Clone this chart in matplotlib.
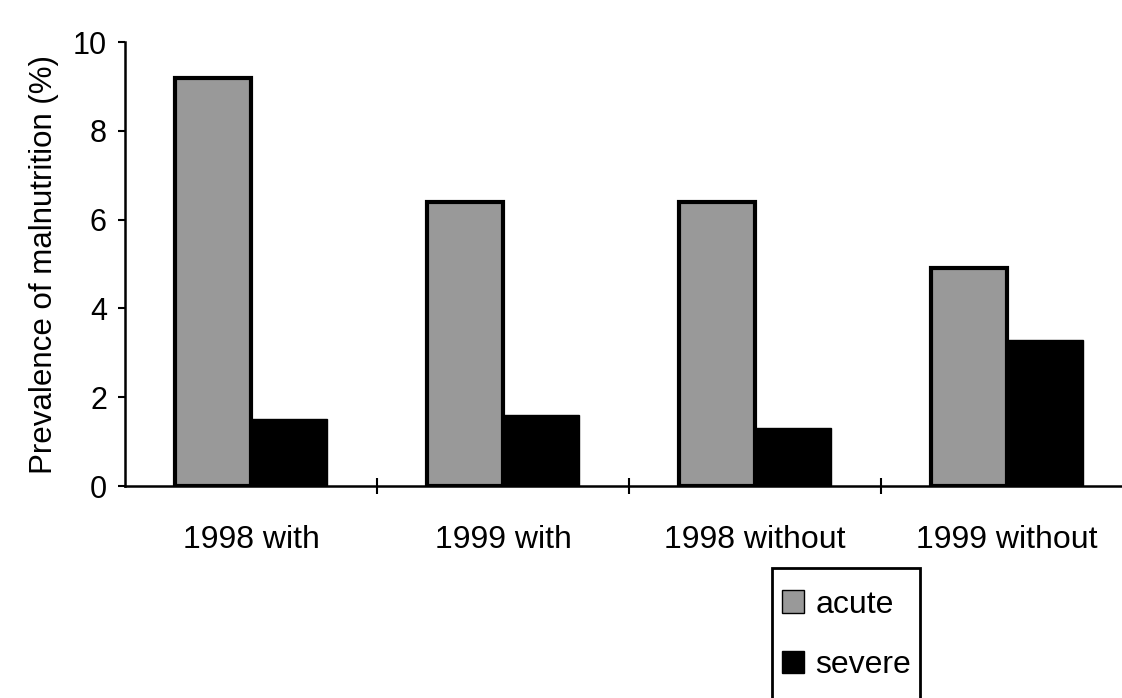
import numpy as np
import matplotlib
matplotlib.use("Agg")
import matplotlib.pyplot as plt
from matplotlib.patches import Patch, Rectangle

plt.rcParams['font.family'] = ['Liberation Sans', 'DejaVu Sans']

categories = ["1998 with", "1999 with", "1998 without", "1999 without"]
acute = [9.2, 6.4, 6.4, 4.9]
severe = [1.5, 1.6, 1.3, 3.3]
series_names = ["acute", "severe"]

ACUTE_COLOR = '#999999'
SEVERE_COLOR = '#000000'

fig = plt.figure(figsize=(11.22, 6.98), dpi=100)
ax = fig.add_axes([0.1114, 0.3037, 0.8886, 0.636])

x = np.arange(len(categories))
w = 0.3
ax.bar(x - w / 2, acute, width=w, color=ACUTE_COLOR, edgecolor='black',
       linewidth=3, zorder=2)
ax.bar(x + w / 2, severe, width=w, color=SEVERE_COLOR, edgecolor='black',
       linewidth=1, zorder=2)

ax.set_xlim(-0.5, 3.456)
ax.set_ylim(0, 10)
ax.set_yticks([0, 2, 4, 6, 8, 10])
ax.tick_params(axis='y', direction='out', length=5, width=1.5, labelsize=22, pad=8)

ax.set_xticks(x)
ax.set_xticklabels(categories, fontsize=23)
ax.tick_params(axis='x', which='major', length=0, pad=28)
ax.set_xticks([0.5, 1.5, 2.5], minor=True)
ax.tick_params(axis='x', which='minor', direction='inout', length=12, width=1.5)

for s in ['top', 'right']:
    ax.spines[s].set_visible(False)
for s in ['left', 'bottom']:
    ax.spines[s].set_linewidth(1.8)

ax.set_ylabel("Prevalence of malnutrition (%)", fontsize=22.5, labelpad=10)

# legend box runs off the bottom of the figure, as in the original scan
fig.patches.append(Rectangle((0.688, -0.05), 0.132, 0.236, transform=fig.transFigure,
                             fill=False, edgecolor='black', linewidth=2))
handles = [Patch(facecolor=ACUTE_COLOR, edgecolor='black', linewidth=1),
           Patch(facecolor=SEVERE_COLOR, edgecolor='black', linewidth=1)]
leg = fig.legend(handles, series_names, loc='upper left',
                 bbox_to_anchor=(0.697, 0.155), fontsize=23,
                 handlelength=0.7, handleheight=0.7, handletextpad=0.35,
                 labelspacing=0.95, borderpad=0, borderaxespad=0,
                 frameon=False)

fig.savefig("out.png", dpi=100)
